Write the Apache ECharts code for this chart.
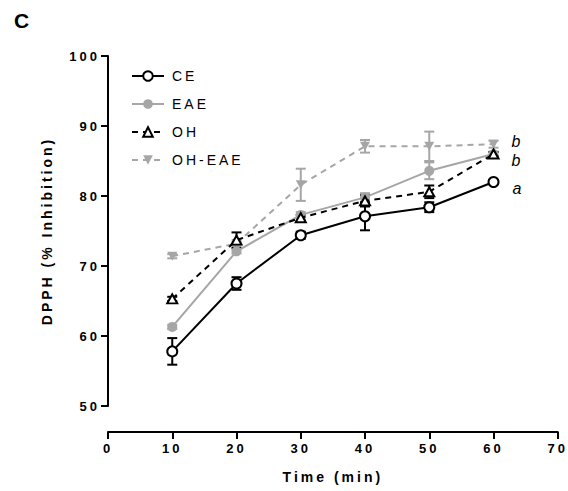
<!DOCTYPE html>
<html>
<head>
<meta charset="utf-8">
<script src="https://cdn.jsdelivr.net/npm/echarts@6/dist/echarts.min.js"></script>
<style>
  html, body { margin: 0; padding: 0; background: #fff; }
  #chart { width: 568px; height: 491px; }
  #chart text { letter-spacing: 3px; }
</style>
</head>
<body>
<div id="chart"></div>
<script>
// time points (min)
const times = [10, 20, 30, 40, 50, 60];

// DPPH % inhibition, mean values
const ceVals = [57.8, 67.5, 74.4, 77.1, 78.4, 82.0];
const eaeVals = [61.3, 72.1, 77.3, 79.8, 83.6, 86.0];
const ohVals = [65.3, 73.7, 76.9, 79.3, 80.6, 86.0];
const ohEaeVals = [71.4, 73.2, 81.6, 87.1, 87.1, 87.4];

// error bar half-widths
const ceErr = [1.9, 0.9, 0.5, 2.0, 0.7, 0.3];
const eaeErr = [0.3, 0.3, 0.4, 0.6, 1.2, 0.3];
const ohErr = [0.3, 1.1, 0.4, 0.8, 0.9, 0.3];
const ohEaeErr = [0.3, 0.3, 2.3, 0.9, 2.1, 0.5];

// significance letters at the last time point
const letters = { 'CE': 'a', 'EAE': 'b', 'OH-EAE': 'b' };

const yTicks = [50, 60, 70, 80, 90, 100];
const xTicks = [0, 10, 20, 30, 40, 50, 60, 70];

const BLACK = '#000';
const GREY = '#a6a6a6';
const FONT = 'Liberation Sans, Arial, sans-serif';

const chart = echarts.init(document.getElementById('chart'), null, { renderer: 'svg' });

function lineData(vals, name, offsetY) {
  return vals.map((v, i) => {
    const item = { value: [times[i], v] };
    if (i === vals.length - 1 && letters[name]) {
      item.label = {
        show: true,
        formatter: letters[name],
        position: 'right',
        offset: [8, offsetY],
        fontFamily: FONT,
        fontStyle: 'italic',
        fontSize: 16,
        color: BLACK
      };
    }
    return item;
  });
}

function errSeries(vals, errs, color) {
  return {
    type: 'custom',
    silent: true,
    z: 1,
    data: vals.map((v, i) => [times[i], v, errs[i]]),
    renderItem: (params, api) => {
      const x = api.value(0), y = api.value(1), e = api.value(2);
      const top = api.coord([x, y + e]);
      const bot = api.coord([x, y - e]);
      const w = 5;
      const style = { stroke: color, lineWidth: 2 };
      return {
        type: 'group',
        children: [
          { type: 'line', shape: { x1: top[0], y1: top[1], x2: bot[0], y2: bot[1] }, style },
          { type: 'line', shape: { x1: top[0] - w, y1: top[1], x2: top[0] + w, y2: top[1] }, style },
          { type: 'line', shape: { x1: bot[0] - w, y1: bot[1], x2: bot[0] + w, y2: bot[1] }, style }
        ]
      };
    }
  };
}

const option = {
  backgroundColor: '#fff',
  animation: false,
  textStyle: { fontFamily: FONT },
  title: {
    text: 'C',
    left: 9,
    top: 5,
    textStyle: { fontFamily: FONT, fontSize: 21, fontWeight: 'bold', color: BLACK }
  },
  grid: { left: 108, right: 10, top: 56, bottom: 85 },
  legend: {
    orient: 'vertical',
    left: 126,
    top: 64,
    itemWidth: 32,
    itemHeight: 12,
    itemGap: 14,
    data: ['CE', 'EAE', 'OH', 'OH-EAE'],
    textStyle: { fontFamily: FONT, fontSize: 14, color: BLACK, padding: [0, 0, 0, 3] }
  },
  xAxis: {
    type: 'value',
    min: 0,
    max: 70,
    interval: 10,
    offset: 26,
    name: 'Time (min)',
    nameLocation: 'middle',
    nameGap: 38,
    nameTextStyle: { fontFamily: FONT, fontSize: 14, fontWeight: 'bold', color: BLACK },
    axisLine: { onZero: false, lineStyle: { color: BLACK, width: 2 } },
    axisTick: { length: 7, lineStyle: { color: BLACK, width: 2 } },
    axisLabel: {
      fontFamily: FONT, fontSize: 13, fontWeight: 'bold', color: BLACK, margin: 10,
      customValues: xTicks
    },
    splitLine: { show: false }
  },
  yAxis: {
    type: 'value',
    min: 50,
    max: 100,
    interval: 10,
    name: 'DPPH (% Inhibition)',
    nameLocation: 'middle',
    nameGap: 54,
    nameTextStyle: { fontFamily: FONT, fontSize: 14, fontWeight: 'bold', color: BLACK },
    axisLine: { show: true, lineStyle: { color: BLACK, width: 2 } },
    axisTick: { show: true, length: 7, lineStyle: { color: BLACK, width: 2 } },
    axisLabel: {
      fontFamily: FONT, fontSize: 13, fontWeight: 'bold', color: BLACK, margin: 8,
      customValues: yTicks
    },
    splitLine: { show: false }
  },
  series: [
    errSeries(ohEaeVals, ohEaeErr, GREY),
    errSeries(eaeVals, eaeErr, GREY),
    errSeries(ohVals, ohErr, BLACK),
    errSeries(ceVals, ceErr, BLACK),
    {
      name: 'OH-EAE',
      type: 'line',
      z: 2,
      data: lineData(ohEaeVals, 'OH-EAE', -3),
      symbol: 'path://M0,0 L10,0 L5,9 Z',
      symbolSize: [10, 9],
      showAllSymbol: true,
      lineStyle: { color: GREY, width: 2, type: [6, 5] },
      itemStyle: { color: GREY, borderColor: GREY, borderWidth: 0 }
    },
    {
      name: 'EAE',
      type: 'line',
      z: 3,
      data: lineData(eaeVals, 'EAE', 6),
      symbol: 'circle',
      symbolSize: 10,
      lineStyle: { color: GREY, width: 2 },
      itemStyle: { color: GREY, borderColor: GREY, borderWidth: 0 }
    },
    {
      name: 'OH',
      type: 'line',
      z: 4,
      data: lineData(ohVals, 'OH', 0),
      symbol: 'triangle',
      symbolSize: [10, 9],
      lineStyle: { color: BLACK, width: 2, type: [6, 5] },
      itemStyle: { color: '#fff', borderColor: BLACK, borderWidth: 2 }
    },
    {
      name: 'CE',
      type: 'line',
      z: 5,
      data: lineData(ceVals, 'CE', 6),
      symbol: 'circle',
      symbolSize: 10,
      lineStyle: { color: BLACK, width: 2 },
      itemStyle: { color: '#fff', borderColor: BLACK, borderWidth: 2 }
    }
  ]
};

chart.setOption(option);
</script>
</body>
</html>
